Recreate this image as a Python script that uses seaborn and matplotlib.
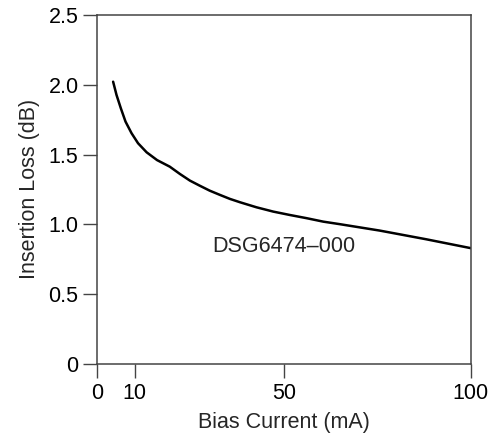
import matplotlib.pyplot as plt
import seaborn as sns
import pandas as pd

sns.set_style("ticks")
plt.rcParams['font.family'] = ['Liberation Sans', 'DejaVu Sans']

# values
bias_ma = [4.23, 5.14, 6.29, 7.55, 9.16, 10.9, 13.2, 16.0, 19.4, 22.1, 24.8, 27.4,
           30.1, 32.8, 35.5, 38.2, 42.6, 47.1, 51.5, 56.0, 60.5, 64.9, 75.6, 88.0, 100.0]
loss_db = [2.022, 1.927, 1.832, 1.736, 1.653, 1.581, 1.516, 1.460, 1.413, 1.361, 1.313, 1.277,
           1.241, 1.211, 1.182, 1.158, 1.122, 1.091, 1.067, 1.044, 1.019, 1.001, 0.955, 0.893, 0.829]
x_ticks = [0, 10, 50, 100]
y_ticks = [0, 0.5, 1.0, 1.5, 2.0, 2.5]
y_tick_labels = ["0", "0.5", "1.0", "1.5", "2.0", "2.5"]
part_name = "DSG6474\u2013000"

df = pd.DataFrame({"bias": bias_ma, "loss": loss_db})

fig = plt.figure(figsize=(4.94, 4.41), dpi=100)
ax = fig.add_axes([0.197, 0.175, 0.756, 0.791])
sns.lineplot(data=df, x="bias", y="loss", color="black", linewidth=1.8, ax=ax)

ax.set_xlim(0, 100)
ax.set_ylim(0, 2.5)
ax.set_xticks(x_ticks)
ax.set_yticks(y_ticks)
ax.set_yticklabels(y_tick_labels)
ax.tick_params(direction="out", length=10, width=1, colors="#444444", labelcolor="black", labelsize=15.5)
for s in ax.spines.values():
    s.set_visible(True)
    s.set_color("#444444")
    s.set_linewidth(1.1)

ax.set_xlabel("Bias Current (mA)", fontsize=15.5, labelpad=6)
ax.set_ylabel("Insertion Loss (dB)", fontsize=15.5, labelpad=6)
ax.text(50, 0.84, part_name, ha="center", va="center", fontsize=15.5)

plt.savefig("out.png", dpi=100)
